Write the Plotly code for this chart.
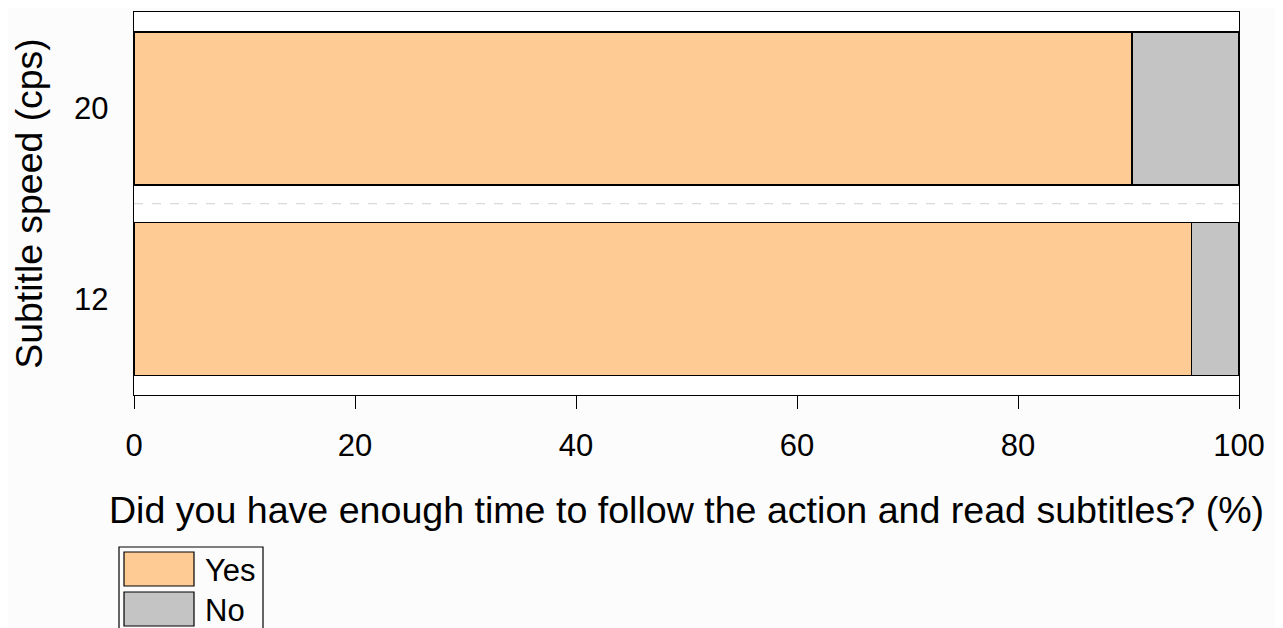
import plotly.graph_objects as go

speeds = ["12", "20"]
yes_pct = [95.7, 90.3]
no_pct = [4.3, 9.7]
x_ticks = [0, 20, 40, 60, 80, 100]

YES_COLOR = "#FECB94"
NO_COLOR = "#C4C4C4"
FONT = "Liberation Sans, Arial, sans-serif"

fig = go.Figure()
fig.add_trace(go.Bar(y=[0, 1], x=yes_pct, orientation="h", name="Yes",
                     marker=dict(color=YES_COLOR, line=dict(color="black", width=1.5)),
                     width=0.803, showlegend=False))
fig.add_trace(go.Bar(y=[0, 1], x=no_pct, orientation="h", name="No",
                     marker=dict(color=NO_COLOR, line=dict(color="black", width=1.5)),
                     width=0.803, showlegend=False))

# dashed separator between groups
fig.add_shape(type="line", xref="paper", x0=0, x1=1, yref="y", y0=0.5, y1=0.5,
              line=dict(color="#D9D9D9", width=1.2, dash="dash"))

# page has an 8px body margin; plot area in window pixels: x 134..1239, y 12..395
OFF = 8
W, H = 1283 - OFF, 628 - OFF
L, T = 134 - OFF, 12 - OFF
R = 1283 - 1239
B = H - T - (395 - 12)
pw = 1239 - 134
ph = 395 - 12

def px(xp):
    return (xp - 134) / pw

def py(yp):
    return (395 - yp) / ph

# custom legend
fig.add_shape(type="rect", xref="paper", yref="paper",
              x0=px(119), x1=px(263), y0=py(640), y1=py(547),
              line=dict(color="black", width=1.2), fillcolor="rgba(0,0,0,0)")
labels = ["Yes", "No"]
cols = [YES_COLOR, NO_COLOR]
for i, (lab, c) in enumerate(zip(labels, cols)):
    top = 552 + 40 * i
    fig.add_shape(type="rect", xref="paper", yref="paper",
                  x0=px(124), x1=px(194), y0=py(top + 34), y1=py(top),
                  line=dict(color="black", width=1.2), fillcolor=c)
    fig.add_annotation(xref="paper", yref="paper", x=px(203), y=py(top + 18),
                       text=lab, showarrow=False, xanchor="left", yanchor="middle",
                       font=dict(size=31, color="black", family=FONT))

fig.update_layout(
    barmode="stack",
    width=W, height=H,
    margin=dict(l=L, r=R, t=T, b=B, pad=0),
    paper_bgcolor="#FCFCFC",
    plot_bgcolor="white",
    font=dict(family=FONT, color="black", size=31),
    xaxis=dict(range=[0, 100], tickvals=x_ticks, ticktext=[str(v) for v in x_ticks],
               ticks="outside", ticklen=13, tickwidth=1.4, tickcolor="black",
               showline=True, linecolor="black", linewidth=1.4, mirror=True,
               showgrid=False, zeroline=False, ticklabelstandoff=10,
               tickfont=dict(size=31),
               title=dict(text="Did you have enough time to follow the action and read subtitles? (%)",
                          font=dict(size=37.6), standoff=34)),
    yaxis=dict(range=[-0.505, 1.507], tickvals=[0, 1], ticktext=speeds,
               ticks="", showline=True, linecolor="black", linewidth=1.4, mirror=True,
               showgrid=False, zeroline=False, ticklabelstandoff=18,
               tickfont=dict(size=31),
               title=dict(text="Subtitle speed (cps)", font=dict(size=37.4), standoff=21)),
)

fig.write_html("out.html")
